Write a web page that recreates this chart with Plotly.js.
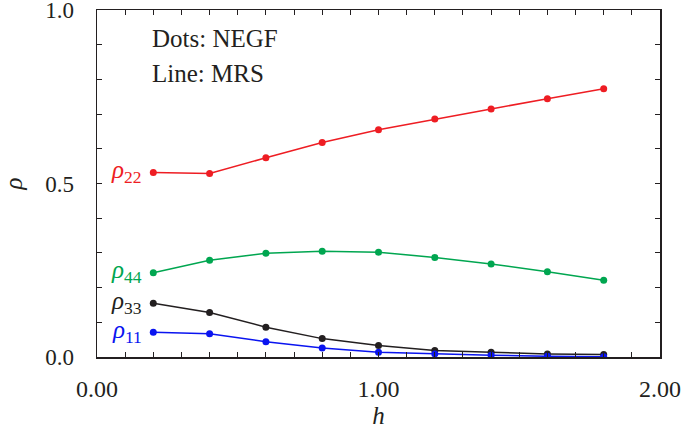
<!DOCTYPE html>
<html>
<head>
<meta charset="utf-8">
<script src="https://cdn.plot.ly/plotly-3.0.1.min.js"></script>
<style>html,body{margin:0;padding:0;background:#fff;}#plot{width:682px;height:444px;}</style>
</head>
<body>
<div id="plot"></div>
<script>
const h = [0.2, 0.4, 0.6, 0.8, 1.0, 1.2, 1.4, 1.6, 1.8];
const rho22 = [0.532, 0.529, 0.574, 0.618, 0.655, 0.686, 0.715, 0.744, 0.773];
const rho44 = [0.243, 0.279, 0.299, 0.305, 0.302, 0.287, 0.268, 0.246, 0.221];
const rho33 = [0.155, 0.128, 0.086, 0.053, 0.033, 0.019, 0.014, 0.009, 0.007];
const rho11 = [0.071, 0.067, 0.044, 0.026, 0.014, 0.009, 0.005, 0.002, 0.001];
const seriesNames = ["22", "44", "33", "11"];
const seriesColors = ["#ee1d23", "#00a650", "#231f20", "#0a14f0"];
const xLabelVals = [0, 1, 2];
const xLabelText = ["0.00", "1.00", "2.00"];
const yLabelVals = [0, 0.5, 1.0];
const yLabelText = ["0.0", "0.5", "1.0"];
const noteLines = ["Dots: NEGF", "Line: MRS"];

const seriesData = [rho22, rho44, rho33, rho11];
const axisColor = "#231f20";
const serif = "Liberation Serif";

const traces = seriesData.map((d, i) => ({
  x: h, y: d, type: "scatter", mode: "lines+markers",
  line: {color: seriesColors[i], width: 1.5},
  marker: {color: seriesColors[i], size: 7},
  showlegend: false, hoverinfo: "skip"
}));

const annotations = seriesData.map((d, i) => ({
  x: h[0], y: d[0], xref: "x", yref: "y",
  text: "<i>ρ</i><sub>" + seriesNames[i] + "</sub>",
  showarrow: false, xanchor: "right", yanchor: "middle",
  xshift: -9, yshift: 1,
  font: {family: serif, size: 25, color: seriesColors[i]}
}));
noteLines.forEach((t, i) => annotations.push({
  x: 0.2, y: i === 0 ? 0.918 : 0.818, xref: "x", yref: "y",
  text: t, showarrow: false, xanchor: "left", yanchor: "middle",
  xshift: -3,
  font: {family: serif, size: 25, color: axisColor}
}));

const axisCommon = {
  showgrid: false, zeroline: false, showline: true, linecolor: axisColor, linewidth: 1.5,
  mirror: "allticks", ticks: "inside", ticklen: 5, tickwidth: 1, tickcolor: axisColor,
  tickmode: "array", ticklabeloverflow: "allow",
  minor: {dtick: 0.1, ticks: "inside", ticklen: 5, tickwidth: 1, tickcolor: axisColor, showgrid: false}
};

const layout = {
  width: 682, height: 444,
  margin: {l: 97, r: 22, t: 10, b: 87},
  paper_bgcolor: "#fff", plot_bgcolor: "#fff",
  xaxis: Object.assign({}, axisCommon, {
    range: [0, 2], tickvals: xLabelVals, ticktext: xLabelText,
    tickfont: {family: serif, size: 24, color: axisColor},
    ticklabelstandoff: 10,
    title: {text: "<i>h</i>", font: {family: serif, size: 25, color: axisColor}, standoff: 2}
  }),
  yaxis: Object.assign({}, axisCommon, {
    range: [0, 1], tickvals: yLabelVals, ticktext: yLabelText,
    tickfont: {family: serif, size: 23, color: axisColor},
    ticklabelstandoff: 17,
    title: {text: "<i>ρ</i>", font: {family: serif, size: 25, color: axisColor}, standoff: 19}
  }),
  annotations: annotations
};

Plotly.newPlot("plot", traces, layout, {displayModeBar: false, staticPlot: true});
</script>
</body>
</html>
